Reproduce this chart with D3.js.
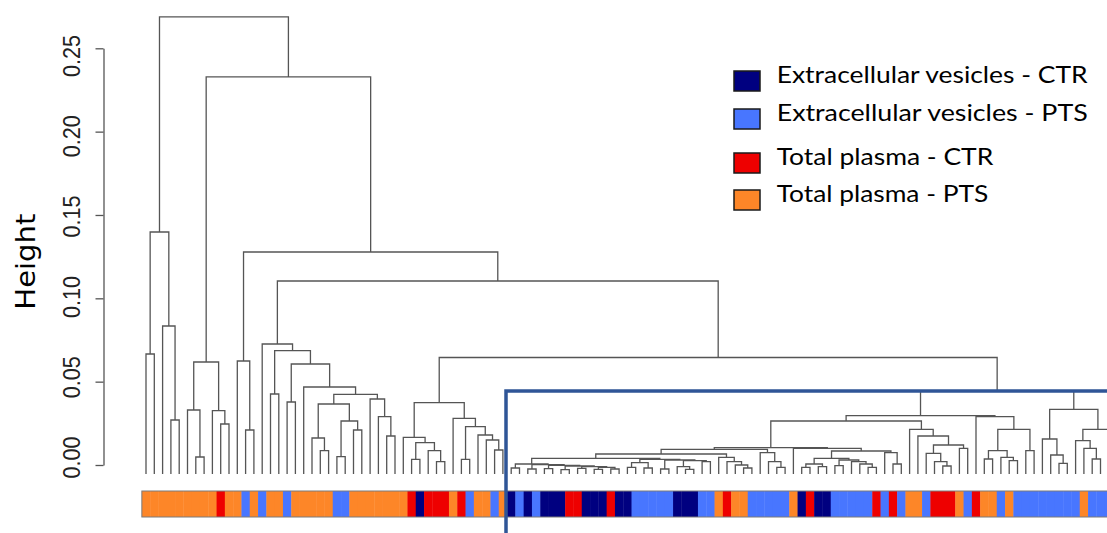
<!DOCTYPE html>
<html>
<head>
<meta charset="utf-8">
<script src="https://cdn.jsdelivr.net/npm/d3@7"></script>
<style>
  html, body { margin: 0; padding: 0; background: #fff; overflow: hidden; }
  svg { display: block; }
</style>
</head>
<body>
<svg id="chart" width="1107" height="533"></svg>
<script>
// ---- groups -------------------------------------------------------------
const groupNames  = ["Extracellular vesicles - CTR", "Extracellular vesicles - PTS",
                     "Total plasma - CTR", "Total plasma - PTS"];
const groupColors = ["#000080", "#4876FF", "#EE0000", "#FD8628"];

// group index of every leaf, in dendrogram order (0 = EV-CTR, 1 = EV-PTS, 2 = TP-CTR, 3 = TP-PTS)
const leafGroup = [
  3,3,3,3,3,3,3,3,3,2,
  3,3,1,3,1,3,3,1,3,3,
  3,3,3,1,1,3,3,3,3,3,
  3,3,2,0,2,2,2,3,2,1,
  3,3,1,3,0,1,0,1,0,0,
  0,2,2,0,0,0,2,0,0,1,
  1,1,1,1,0,0,0,1,1,3,
  2,3,3,1,1,1,1,1,3,0,
  2,0,0,1,1,1,1,1,2,1,
  2,1,3,3,1,2,2,2,3,1,
  2,3,3,1,3,1,1,1,1,1,
  1,1,1,3,1,1,1,1
];

// ---- clustering tree: a merge is [left, right, height], a leaf is its position ----
const branchA = [[0, 1, 0.0720], [2, [3, 4, 0.0324], 0.0888], 0.1452];
const branchB = [[5, [6, 7, 0.0102], 0.0384], [8, [9, 10, 0.0300], 0.0380], 0.0672];
const branchC = [11, [12, 13, 0.0264], 0.0678];
const branchD = [14,
  [[15, 16, 0.0480],
   [[17, 18, 0.0432],
    [19,
     [[[20, [21, 22, 0.0140], 0.0216], [[23, 24, 0.0104], [25, 26, 0.0264], 0.0318], 0.0420],
      [27, [28, [29, 30, 0.0228], 0.0344], 0.0450], 0.0478],
     0.0522],
    0.0660],
   0.0740],
  0.0780];
const branchE = [[31, [[32, 33, 0.0088], [34, [35, 36, 0.0074], 0.0140], 0.0188], 0.0220],
                 [37, [[38, 39, 0.0088], [40, [41, [42, 43, 0.0144], 0.0204], 0.0234], 0.0284], 0.0334],
                 0.0428];

// the tight low-height cluster (leaves 44-117)
const tightLadder = [[44, 45, 0.0036], [[46, 47, 0.0030], [[48, 49, 0.0032], [[50, 51, 0.0026],
                     [[52, 53, 0.0034], [[54, 55, 0.0028], [56, 57, 0.0030], 0.0040], 0.0044],
                     0.0048], 0.0052], 0.0056], 0.0060];
const tightMid    = [[[58, 59, 0.0040], [60, 61, 0.0036], 0.0068],
                     [[62, 63, 0.0030], [[64, [65, 66, 0.0028], 0.0044], [67, 68, 0.0074], 0.0080], 0.0084],
                     0.0088];
const tightRun    = [69, [70, [71, [72, 73, 0.0036], 0.0054], 0.0074], 0.0100];
const tightTail   = [74, [75, [76, 77, 0.0040], 0.0074], 0.0128];
const tightRight  = [78, [[[[79, 80, 0.0040], [81, 82, 0.0044], 0.0060],
                           [[83, 84, 0.0050], [85, [86, [87, 88, 0.0040], 0.0060], 0.0074], 0.0084], 0.0094],
                          [89, [90, 91, 0.0060], 0.0128], 0.0138], 0.0154];
const tightLeft   = [[[tightLadder, tightMid, 0.0094], tightRun, 0.0120], tightTail, 0.0148];
const subF        = [92, [93, [[94, [95, [96, 97, 0.0048], 0.0074], 0.0124], [98, 99, 0.0154], 0.0174], 0.0228], 0.0268];
const subG        = [100, [[[101, 102, 0.0090], [103, [104, 105, 0.0080], 0.0100], 0.0140], [106, 107, 0.0140], 0.0268], 0.0344];
const subH        = [[108, [109, [110, 111, 0.0064], 0.0114], 0.0210],
                     [[112, [113, [114, 115, 0.0090], 0.0154], 0.0200], [116, 117, 0.0150], 0.0268], 0.0388];
const tightCluster = [[[[tightLeft, tightRight, 0.0158], subF, 0.0318], subG, 0.0350], subH, 0.0498];

const tree = [branchA,
              [branchB, [branchC, [branchD, [branchE, tightCluster, 0.0699], 0.1158], 0.1332], 0.2382],
              0.2742];

// axis ticks
const yTicks = [0, 0.05, 0.10, 0.15, 0.20, 0.25];

// ---- drawing --------------------------------------------------------------
const svg = d3.select("#chart");
const nLeaves = leafGroup.length;
const fontUI = "Lato, 'Open Sans', sans-serif";

const x = d3.scaleLinear().domain([0, nLeaves - 1]).range([146, 146 + 8.3 * (nLeaves - 1)]);
const yAxisScale = d3.scaleLinear().domain([0, 0.25]).range([465, 48.3]);
const yLabel = d3.scaleLinear().domain([0, 0.25]).range([457.5, 56]);
const yTree = d3.scaleLinear().domain([0, 0.25]).range([474, 474 - (465 - 48.3)]);

const root = d3.hierarchy(tree, d => Array.isArray(d) ? [d[0], d[1]] : null);
root.eachAfter(n => {
  if (n.children) {
    n.h = n.data[2];
    n.px = (n.children[0].px + n.children[1].px) / 2;
  } else {
    n.h = 0;
    n.px = x(n.data);
  }
});

// dendrogram branches
const internal = root.descendants().filter(n => n.children);
svg.append("g")
  .attr("fill", "none")
  .attr("stroke", "#555")
  .attr("stroke-width", 1.3)
  .selectAll("path")
  .data(internal)
  .join("path")
  .attr("d", n => {
    const [a, b] = n.children;
    return `M${a.px},${yTree(a.h)}V${yTree(n.h)}H${b.px}V${yTree(b.h)}`;
  });

// group colour bar under the leaves
const barTop = 491, barH = 26;
const bar = svg.append("g");
bar.selectAll("rect")
  .data(leafGroup)
  .join("rect")
  .attr("x", (g, i) => x(i - 0.5))
  .attr("y", barTop)
  .attr("width", x(1) - x(0) + 0.4)
  .attr("height", barH)
  .attr("fill", g => groupColors[g]);
bar.append("rect")
  .attr("x", x(-0.5))
  .attr("y", barTop)
  .attr("width", x(nLeaves - 0.5) - x(-0.5))
  .attr("height", barH)
  .attr("fill", "none")
  .attr("stroke", "#7a7a7a")
  .attr("stroke-width", 1);

// y axis
const axisG = svg.append("g")
  .attr("transform", "translate(103.5,0)")
  .call(d3.axisLeft(yAxisScale).tickValues(yTicks).tickSize(8).tickSizeOuter(0).tickFormat(""));
axisG.selectAll("path, line").attr("stroke", "#555").attr("stroke-width", 1.3);

svg.append("g")
  .selectAll("text")
  .data(yTicks)
  .join("text")
  .attr("transform", v => `translate(80,${yLabel(v)}) rotate(-90)`)
  .attr("text-anchor", "middle")
  .attr("font-family", "'Liberation Sans', Arial, sans-serif")
  .attr("font-size", 24)
  .attr("fill", "#222")
  .attr("textLength", 42)
  .attr("lengthAdjust", "spacingAndGlyphs")
  .text(d3.format(".2f"));

svg.append("text")
  .attr("transform", "translate(34.5,261.7) rotate(-90)")
  .attr("text-anchor", "middle")
  .attr("font-family", "'DejaVu Sans', sans-serif")
  .attr("font-size", 26)
  .attr("fill", "#000")
  .attr("textLength", 96)
  .attr("lengthAdjust", "spacingAndGlyphs")
  .text("Height");

// highlighted cluster frame
svg.append("rect")
  .attr("x", 506)
  .attr("y", 391)
  .attr("width", 700)
  .attr("height", 300)
  .attr("fill", "none")
  .attr("stroke", "#2F5597")
  .attr("stroke-width", 3.5);

// legend
const legendBase = [83, 121, 165, 202];
const legendWidth = [311, 311, 216.6, 211.6];
const legend = svg.append("g")
  .selectAll("g")
  .data(groupNames)
  .join("g")
  .attr("transform", (d, i) => `translate(0,${legendBase[i]})`);
legend.append("rect")
  .attr("x", 734)
  .attr("y", -12)
  .attr("width", 26)
  .attr("height", 20)
  .attr("fill", (d, i) => groupColors[i])
  .attr("stroke", "#1a1a1a")
  .attr("stroke-width", 1.5);
legend.append("text")
  .attr("x", 776.7)
  .attr("y", 0)
  .attr("font-family", fontUI)
  .attr("font-size", 24)
  .attr("fill", "#000")
  .attr("textLength", (d, i) => legendWidth[i])
  .attr("lengthAdjust", "spacingAndGlyphs")
  .text(d => d);
</script>
</body>
</html>
